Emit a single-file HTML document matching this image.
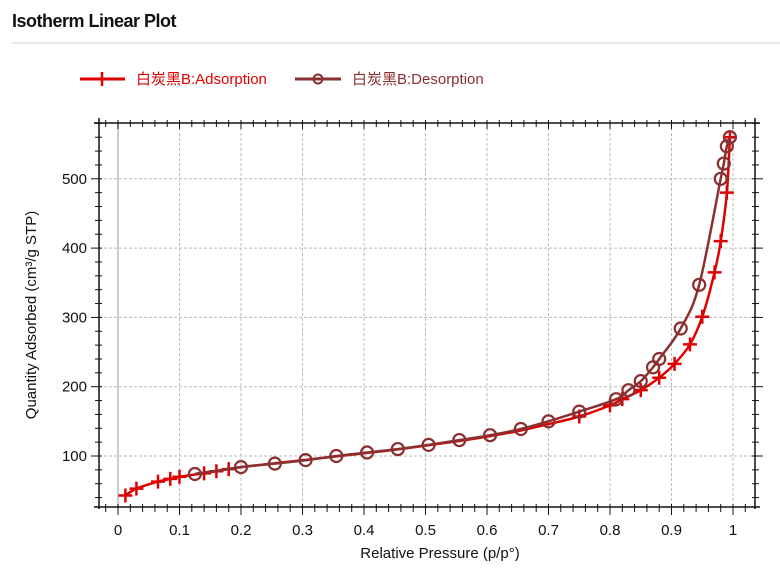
<!DOCTYPE html>
<html><head><meta charset="utf-8"><style>
body{margin:0;background:#fff;width:780px;height:571px;overflow:hidden;font-family:"Liberation Sans","Noto Sans CJK SC",sans-serif}
</style></head><body>
<svg id="s" width="780" height="571" xmlns="http://www.w3.org/2000/svg" font-family="Liberation Sans, Noto Sans CJK SC, sans-serif">
<text x="12" y="27" font-size="18" font-weight="bold" fill="#111" letter-spacing="-0.5">Isotherm Linear Plot</text>
<line x1="12" y1="43" x2="780" y2="43" stroke="#ccc" stroke-width="1"/>
<line x1="80" y1="79" x2="125" y2="79" stroke="#e00000" stroke-width="3"/>
<line x1="102" y1="72" x2="102" y2="86" stroke="#e00000" stroke-width="2.5"/>
<text x="136" y="84" font-size="15" fill="#e00000">白炭黑B:Adsorption</text>
<line x1="295" y1="79" x2="341" y2="79" stroke="#8b3030" stroke-width="3"/>
<circle cx="318" cy="79" r="4.5" fill="none" stroke="#8b3030" stroke-width="2"/>
<text x="352" y="84" font-size="15" fill="#8b3030">白炭黑B:Desorption</text>
<g id="g"></g>
<text x="440" y="558" font-size="15" text-anchor="middle" fill="#111">Relative Pressure (p/p°)</text>
<text transform="translate(36,315) rotate(-90)" font-size="15" text-anchor="middle" fill="#111">Quantity Adsorbed (cm³/g STP)</text>
</svg>
<script>
var g=document.getElementById('g'),h='';
function X(p){return 118+p*615}function Y(q){return 525.3-q*0.693}
var L=99,R=755,T=123,B=507;
for(var i=1;i<=10;i++){var x=X(i/10);h+='<line x1="'+x+'" y1="'+T+'" x2="'+x+'" y2="'+B+'" stroke="#bbb" stroke-dasharray="3,2"/>';}
h+='<line x1="118" y1="'+T+'" x2="118" y2="'+B+'" stroke="#bbb" stroke-width="1.5"/>';
for(var q=100;q<=500;q+=100){var y=Y(q);h+='<line x1="'+L+'" y1="'+y+'" x2="'+R+'" y2="'+y+'" stroke="#bbb" stroke-dasharray="3,2"/>';h+='<text x="'+(L-12)+'" y="'+(y+5)+'" font-size="15" text-anchor="end" fill="#111">'+q+'</text>';}
for(var q=40;q<=580;q+=20){var y=Y(q);if(y<T||y>B)continue;var m=q%100==0;var l=m?8:4;h+='<line x1="'+(L-l)+'" y1="'+y+'" x2="'+(L+3)+'" y2="'+y+'" stroke="#111"/><line x1="'+(R-3)+'" y1="'+y+'" x2="'+(R+l)+'" y2="'+y+'" stroke="#111"/>';}
for(var k=-1;k<=51;k++){var p=k/50;var x=X(p);if(x<L||x>R)continue;var m=k%5==0;h+='<line x1="'+x+'" y1="'+(B-3)+'" x2="'+x+'" y2="'+(B+(m?8:5))+'" stroke="#111"/><line x1="'+x+'" y1="'+(T-3)+'" x2="'+x+'" y2="'+(T+(m?6:4))+'" stroke="#111"/>';if(k%5==0&&k>=0&&k<=50){var lab=k==0?'0':k==50?'1':(k/50).toFixed(1);h+='<text x="'+x+'" y="'+(B+28)+'" font-size="15" text-anchor="middle" fill="#111">'+lab+'</text>';}}
h+='<line x1="'+L+'" y1="'+(T-5)+'" x2="'+L+'" y2="'+(B+2)+'" stroke="#111" stroke-width="1.5"/><line x1="'+R+'" y1="'+(T-5)+'" x2="'+R+'" y2="'+(B+2)+'" stroke="#111" stroke-width="1.5"/>';
h+='<line x1="'+(L-5)+'" y1="'+T+'" x2="'+(R+5)+'" y2="'+T+'" stroke="#111" stroke-width="1.5"/><line x1="'+(L-5)+'" y1="'+B+'" x2="'+(R+5)+'" y2="'+B+'" stroke="#111" stroke-width="1.5"/>';
var ad=[[0.012,43],[0.03,53],[0.065,63],[0.085,67],[0.1,70],[0.14,75],[0.16,78],[0.18,81],[0.2,84],[0.25,89],[0.3,94],[0.35,99],[0.4,104],[0.45,109],[0.5,115],[0.55,121],[0.6,128],[0.65,136],[0.7,146],[0.75,157],[0.8,173],[0.82,182],[0.85,195],[0.88,213],[0.905,233],[0.93,261],[0.95,301],[0.97,365],[0.98,410],[0.99,480],[0.995,560]];
var de=[[0.995,560],[0.99,547],[0.985,522],[0.98,500],[0.945,347],[0.915,284],[0.88,240],[0.87,228],[0.85,208],[0.83,195],[0.81,182],[0.75,164],[0.7,150],[0.655,139],[0.605,130],[0.555,123],[0.505,116],[0.455,110],[0.405,105],[0.355,100],[0.305,94],[0.255,89],[0.2,84],[0.125,74]];
function path(a){var P=a.map(function(d){return [X(d[0]),Y(d[1])]});var s='M'+P[0][0].toFixed(1)+','+P[0][1].toFixed(1);
for(var i=0;i<P.length-1;i++){var p0=P[i-1]||P[i],p1=P[i],p2=P[i+1],p3=P[i+2]||P[i+1];var t=6;
var c1=[p1[0]+(p2[0]-p0[0])/t,p1[1]+(p2[1]-p0[1])/t],c2=[p2[0]-(p3[0]-p1[0])/t,p2[1]-(p3[1]-p1[1])/t];
s+='C'+c1[0].toFixed(1)+','+c1[1].toFixed(1)+' '+c2[0].toFixed(1)+','+c2[1].toFixed(1)+' '+p2[0].toFixed(1)+','+p2[1].toFixed(1);}return s;}
h+='<path d="'+path(ad)+'" fill="none" stroke="#e00000" stroke-width="2.5" stroke-linejoin="round"/>';
ad.forEach(function(d){if(d[0]>0.19&&d[0]<0.75)return;var x=X(d[0]),y=Y(d[1]);h+='<path d="M'+(x-7)+','+y+'H'+(x+7)+'M'+x+','+(y-7)+'V'+(y+7)+'" stroke="#e00000" stroke-width="2.5"/>';});
h+='<path d="'+path(de)+'" fill="none" stroke="#8b3030" stroke-width="2.5" stroke-linejoin="round"/>';
de.forEach(function(d){h+='<circle cx="'+X(d[0])+'" cy="'+Y(d[1])+'" r="6" fill="none" stroke="#8b3030" stroke-width="2.2"/>';});
g.innerHTML=h;
</script>
</body></html>
